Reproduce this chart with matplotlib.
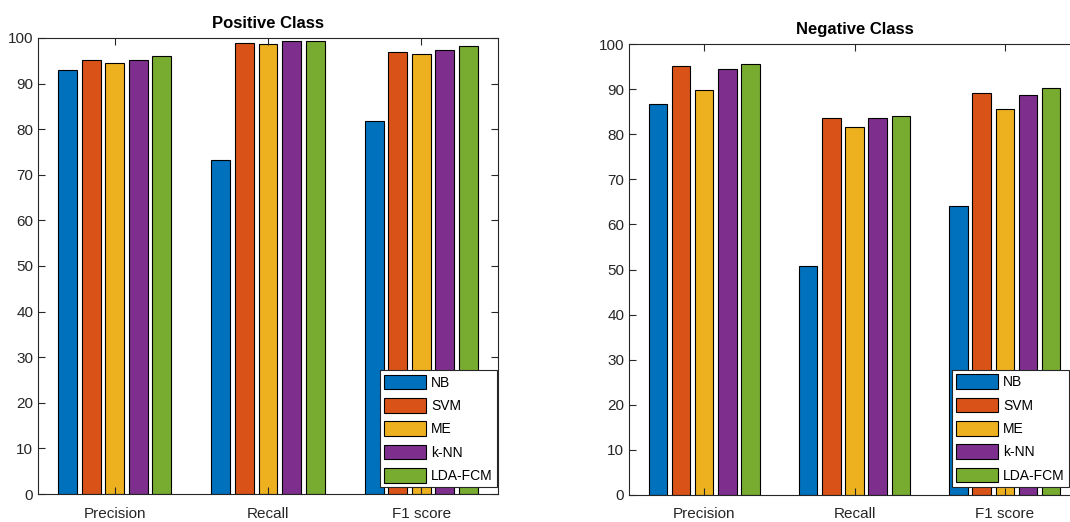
import matplotlib.pyplot as plt
import numpy as np

plt.rcParams['font.family'] = ['Liberation Sans Narrow', 'Liberation Sans', 'DejaVu Sans']

metrics = ['Precision', 'Recall', 'F1 score']
methods = ['NB', 'SVM', 'ME', 'k-NN', 'LDA-FCM']
colors = ['#0072BD', '#D95319', '#EDB120', '#7E2F8E', '#77AC30']

# rows: methods, columns: metrics
positive = [
    [93.0, 73.2, 81.9],
    [95.1, 99.0, 97.0],
    [94.6, 98.6, 96.6],
    [95.2, 99.3, 97.3],
    [96.1, 99.4, 98.2],
]
negative = [
    [86.7, 50.7, 64.1],
    [95.2, 83.6, 89.1],
    [89.8, 81.5, 85.5],
    [94.5, 83.7, 88.7],
    [95.5, 84.1, 90.2],
]

W, H = 1070, 522
fig = plt.figure(figsize=(W / 100, H / 100), dpi=100)


def draw(ax, data, title, anchor):
    x = np.arange(1, len(metrics) + 1)
    n = len(methods)
    step = min(0.8, n / (n + 1.5)) / n
    for i, (name, vals) in enumerate(zip(methods, data)):
        off = (i - (n - 1) / 2) * step
        ax.bar(x + off, vals, width=step * 0.8, color=colors[i],
               edgecolor='black', linewidth=0.8, label=name)
    ax.set_xlim(0.5, 3.5)
    ax.set_ylim(0, 100)
    ax.set_yticks(np.arange(0, 101, 10))
    ax.set_xticks(x)
    ax.set_xticklabels(metrics)
    ax.tick_params(direction='in', top=True, right=True, labelsize=11,
                   colors='#262626', length=5)
    ax.tick_params(axis='x', pad=9)
    for s in ax.spines.values():
        s.set_color('#262626')
        s.set_linewidth(0.8)
    ax.set_title(title, fontsize=12, fontweight='bold', pad=7)
    leg = ax.legend(loc='lower right', bbox_to_anchor=anchor,
                    borderaxespad=0, fontsize=10, fancybox=False,
                    framealpha=1, edgecolor='#262626', handlelength=3.0,
                    handleheight=1.25, labelspacing=0.6,
                    handletextpad=0.4, borderpad=0.3)
    leg.get_frame().set_linewidth(0.8)


ax1 = fig.add_axes([38 / W, 1 - 494 / H, 460 / W, 456 / H])
draw(ax1, positive, 'Positive Class', (0.998, 0.015))
ax2 = fig.add_axes([629 / W, 1 - 495 / H, 451 / W, 451 / H])
draw(ax2, negative, 'Negative Class', ((1069 - 629) / 451, 0.018))

fig.savefig('out.png', dpi=100)
